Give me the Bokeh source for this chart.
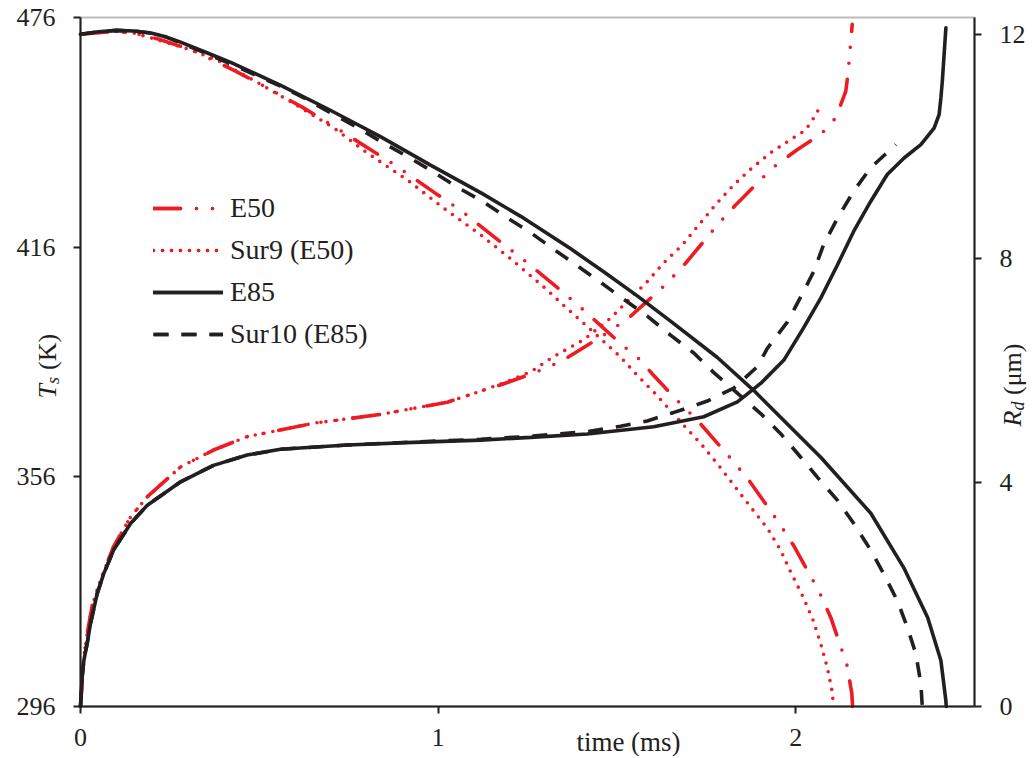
import math
from bokeh.plotting import figure
from bokeh.models import (Range1d, LinearAxis, FixedTicker, Label, Legend, LegendItem,
                          BoxAnnotation)
from bokeh.embed import file_html
from bokeh.resources import INLINE

RED = "#ED1C24"
BLACK = "#231F20"
FONT = "Liberation Serif"

# ---------------- data ----------------
x_ticks = [0, 1, 2]
t_ticks = [296, 356, 416, 476]
r_ticks = [0, 4, 8, 12]
series_names = ["E50", "Sur9 (E50)", "E85", "Sur10 (E85)"]

# Droplet radius R_d (um) vs time (ms)
e50_r_t = [0, 0.05, 0.10, 0.15, 0.215, 0.308, 0.428, 0.503, 0.620, 0.690, 0.806, 0.881, 0.993,
           1.063, 1.169, 1.236, 1.343, 1.408, 1.510, 1.561, 1.603, 1.669, 1.725, 1.818, 1.869,
           1.952, 1.994, 2.064, 2.098, 2.143, 2.157, 2.159]
e50_r = [12.0, 12.03, 12.05, 12.02, 11.92, 11.73, 11.36, 11.11, 10.70, 10.43, 9.96, 9.66, 9.16,
         8.86, 8.32, 7.99, 7.43, 7.07, 6.48, 6.21, 5.91, 5.46, 5.11, 4.43, 4.04,
         3.29, 2.875, 2.07, 1.59, 0.75, 0.23, 0.0]

sur9_r_t = [0, 0.05, 0.10, 0.15, 0.20, 0.30, 0.382, 0.484, 0.587, 0.708, 0.802, 0.914, 1.015,
            1.119, 1.211, 1.249, 1.301, 1.351, 1.407, 1.459, 1.510, 1.557, 1.608, 1.687, 1.739,
            1.785, 1.827, 1.874, 1.921, 1.958, 1.986, 2.019, 2.047, 2.070, 2.089, 2.103, 2.105]
sur9_r = [12.0, 12.03, 12.05, 12.02, 11.93, 11.74, 11.54, 11.18, 10.80, 10.33, 9.88, 9.40, 8.90,
          8.42, 7.95, 7.74, 7.46, 7.16, 6.84, 6.54, 6.24, 5.91, 5.58, 5.02, 4.66,
          4.30, 3.95, 3.56, 3.18, 2.79, 2.40, 1.98, 1.57, 1.12, 0.68, 0.23, 0.0]

e85_r_t = [0, 0.05, 0.10, 0.15, 0.20, 0.24, 0.28, 0.35, 0.42, 0.56, 0.70, 0.84, 0.98, 1.12, 1.231,
           1.371, 1.463, 1.557, 1.650, 1.781, 1.883, 2.07, 2.21, 2.302, 2.369, 2.406, 2.42, 2.421]
e85_r = [12.0, 12.045, 12.07, 12.06, 12.02, 11.95, 11.86, 11.68, 11.50, 11.09, 10.64, 10.17, 9.66,
         9.17, 8.75, 8.17, 7.76, 7.33, 6.88, 6.23, 5.64, 4.45, 3.45, 2.48, 1.59, 0.82, 0.10, 0.0]

sur10_r_t = [0, 0.05, 0.10, 0.15, 0.20, 0.24, 0.28, 0.35, 0.42, 0.564, 0.629, 0.704, 0.774, 0.844,
             0.914, 0.985, 1.051, 1.124, 1.194, 1.254, 1.324, 1.389, 1.455, 1.519, 1.585, 1.650,
             1.715, 1.771, 1.902, 1.958, 2.014, 2.061, 2.117, 2.162, 2.210, 2.246, 2.284, 2.312,
             2.336, 2.350, 2.354]
sur10_r = [12.0, 12.045, 12.07, 12.06, 12.02, 11.95, 11.85, 11.66, 11.47, 11.06, 10.85, 10.58,
           10.34, 10.07, 9.82, 9.55, 9.28, 9.02, 8.72, 8.48, 8.16, 7.87, 7.57, 7.27, 6.97, 6.63,
           6.31, 5.96, 5.23, 4.87, 4.45, 4.09, 3.68, 3.27, 2.79, 2.37, 1.89, 1.42,
           0.94, 0.41, 0.0]

# Droplet surface temperature T_s (K) vs time (ms)
e50_t_t = [0, 0.0093, 0.0187, 0.033, 0.056, 0.092, 0.140, 0.187, 0.280, 0.372, 0.466, 0.652, 0.839,
           1.026, 1.10, 1.18, 1.267, 1.343, 1.463, 1.533, 1.636, 1.692, 1.781, 1.837, 1.935, 2.005,
           2.042, 2.079, 2.112, 2.140, 2.146, 2.150, 2.154, 2.158]
e50_t = [296, 309, 315, 322.5, 329, 337.7, 345.5, 350.8, 358.6, 363, 366.5, 370, 372.3,
         375.5, 377.8, 380.2, 383.1, 386.1, 393, 397.5, 406.2, 411.8, 421.8, 427.5, 436.7, 441.5,
         443.8, 446.3, 449.8, 456.7, 461.1, 465.5, 469.5, 474.2]

sur9_t_t = [0, 0.0093, 0.0187, 0.033, 0.056, 0.092, 0.140, 0.187, 0.280, 0.372, 0.466, 0.652, 0.839,
            1.026, 1.10, 1.18, 1.26, 1.323, 1.407, 1.483, 1.538, 1.585, 1.631, 1.683, 1.729, 1.776,
            1.827, 1.879, 1.935, 1.994, 2.014, 2.030, 2.044, 2.058, 2.070]
sur9_t = [296, 309, 315, 322.5, 329, 337.7, 345.5, 350.8, 358.6, 363, 366.5, 370, 372.3,
          375.5, 377.8, 380.4, 383.5, 387.4, 391.8, 397.5, 402.7, 407, 411.9, 416.6, 421.8, 427.1,
          432.3, 436.8, 441, 444.6, 445.7, 447.0, 448.8, 450.9, 453.1]

e85_t_t = [0, 0.0047, 0.0093, 0.0187, 0.028, 0.0467, 0.065, 0.0923, 0.140, 0.187, 0.280, 0.372,
           0.466, 0.559, 0.746, 0.931, 1.119, 1.259, 1.417, 1.603, 1.743, 1.837, 1.902, 1.967,
           2.022, 2.070, 2.117, 2.162, 2.210, 2.256, 2.303, 2.350, 2.387, 2.401, 2.406, 2.410,
           2.415, 2.420]
e85_t = [296, 303.7, 308, 312.5, 317.7, 325.5, 330.7, 336.8, 343.8, 348.6, 354.7, 359,
         361.7, 363.2, 364.3, 365, 365.6, 366.3, 367.2, 369.1, 371.7, 375.6, 380.4, 386.5,
         394.9, 402.7, 411.4, 420.1, 428, 435, 439.3, 442.8, 447.1, 450.6, 455.0, 459.3,
         466.3, 473.3]

sur10_t_t = [0, 0.0047, 0.0093, 0.0187, 0.028, 0.0467, 0.065, 0.0923, 0.140, 0.187, 0.280, 0.372,
             0.466, 0.559, 0.746, 0.931, 1.119, 1.259, 1.417, 1.510, 1.585, 1.678, 1.753, 1.827,
             1.893, 1.921, 1.977, 2.022, 2.050, 2.078, 2.117, 2.162, 2.210, 2.250, 2.266, 2.280]
sur10_t = [296, 303.7, 308, 312.5, 317.7, 325.5, 330.7, 336.8, 343.8, 348.6, 354.7, 359,
           361.7, 363.2, 364.3, 365.1, 365.8, 366.6, 367.8, 369.2, 370.6, 373.4, 375.8, 379.2,
           384.8, 389.6, 396.5, 404.4, 409.6, 416.6, 423.6, 430.6, 436.8, 440.2, 441.4, 442.8]

# ---------------- layout constants (pixels) ----------------
W, H = 1030, 756
FL, FR, FT, FB = 80, 974, 17, 706          # plot box edges in canvas pixels
XPX = (FR - FL) / 2.5                       # px per ms
KPX = (FB - FT) / 180.0                     # px per K
RPX = (FB - FT) / 12.3                      # px per um

p = figure(width=W, height=H, output_backend="svg", toolbar_location=None,
           x_axis_location=None, y_axis_location=None,
           x_range=Range1d(-FL / XPX, 2.5 + (W - FR) / XPX),
           y_range=Range1d(296 - (H - FB) / KPX, 476 + FT / KPX),
           min_border=0, min_border_left=0, min_border_right=0,
           min_border_top=0, min_border_bottom=0,
           background_fill_color="white", border_fill_color="white")
p.extra_y_ranges = {"R": Range1d(0 - (H - FB) / RPX, 12.3 + FT / RPX)}
p.grid.visible = False
p.outline_line_color = None

xaxis = LinearAxis(fixed_location=296, bounds=(0, 2.5), ticker=FixedTicker(ticks=x_ticks))
yaxis = LinearAxis(fixed_location=0, bounds=(296, 476), ticker=FixedTicker(ticks=t_ticks))
raxis = LinearAxis(fixed_location=2.5, y_range_name="R", bounds=(0, 12.3),
                   ticker=FixedTicker(ticks=r_ticks))
p.add_layout(xaxis, "below")
p.add_layout(yaxis, "left")
p.add_layout(raxis, "right")

for ax in (xaxis, yaxis, raxis):
    ax.axis_line_color = BLACK
    ax.axis_line_width = 2
    ax.major_tick_line_color = BLACK
    ax.major_tick_line_width = 2
    ax.major_tick_out = 7
    ax.major_tick_in = 0
    ax.minor_tick_out = 0
    ax.minor_tick_in = 0
    ax.major_label_text_font = FONT
    ax.major_label_text_font_size = "26px"
    ax.major_label_text_color = BLACK
xaxis.major_label_standoff = 15
yaxis.major_label_standoff = 18
raxis.major_label_standoff = 18

# plot box (top and right edges)
p.add_layout(BoxAnnotation(left=0, right=2.5, bottom=296, top=476, fill_alpha=0,
                           line_color=BLACK, line_width=2))

LW = 3.6
r1 = p.line(e50_t_t, e50_t, color=RED, line_width=LW, line_dash="27 16 0 16 0 16", line_cap="round")
r2 = p.line(e50_r_t, e50_r, color=RED, line_width=LW, line_dash="27 16 0 16 0 16", line_cap="round",
            y_range_name="R")
r3 = p.line(sur9_t_t, sur9_t, color=RED, line_width=LW, line_dash="0 9", line_cap="round")
r4 = p.line(sur9_r_t, sur9_r, color=RED, line_width=LW, line_dash="0 9", line_cap="round",
            y_range_name="R")
r5 = p.line(e85_t_t, e85_t, color=BLACK, line_width=LW, line_cap="round")
r6 = p.line(e85_r_t, e85_r, color=BLACK, line_width=LW, line_cap="round", y_range_name="R")
r7 = p.line(sur10_t_t, sur10_t, color=BLACK, line_width=LW, line_dash="15 13")
r8 = p.line(sur10_r_t, sur10_r, color=BLACK, line_width=LW, line_dash="15 13", y_range_name="R")

legend = Legend(items=[LegendItem(label=series_names[0], renderers=[r1, r2]),
                       LegendItem(label=series_names[1], renderers=[r3, r4]),
                       LegendItem(label=series_names[2], renderers=[r5, r6]),
                       LegendItem(label=series_names[3], renderers=[r7, r8])],
                location=(153, H - 349.7), glyph_width=70, glyph_height=32, label_height=32,
                label_standoff=7, spacing=10, padding=0, margin=0,
                border_line_color=None, background_fill_alpha=0,
                label_text_font=FONT, label_text_font_size="28px", label_text_color=BLACK)
p.add_layout(legend)


def tx(px):
    return (px - FL) / XPX


def ty(py):
    return 296 + (FB - py) / KPX


def lab(x, y, text, size="26px", style="normal", angle=0.0, align="left"):
    p.add_layout(Label(x=x, y=y, text=text, angle=angle, text_font=FONT, text_font_size=size,
                       text_font_style=style, text_color=BLACK, text_align=align,
                       text_baseline="alphabetic"))


# x-axis title (same row as the tick labels)
lab(tx(628), ty(741), "time (ms)", size="27px", align="center")
# left title  T_s (K)
a = math.pi / 2
lab(tx(47), ty(398), "T", style="italic", angle=a)
lab(tx(52), ty(383.5), "s", size="18px", style="italic", angle=a)
lab(tx(47), ty(369.5), "(K)", angle=a)
# right title R_d (um)
lab(tx(1012), ty(426), "R", style="italic", angle=a)
lab(tx(1017), ty(410), "d", size="18px", style="italic", angle=a)
lab(tx(1012), ty(394.5), "(μm)", angle=a)

open("out.html", "w").write(file_html(p, INLINE))
